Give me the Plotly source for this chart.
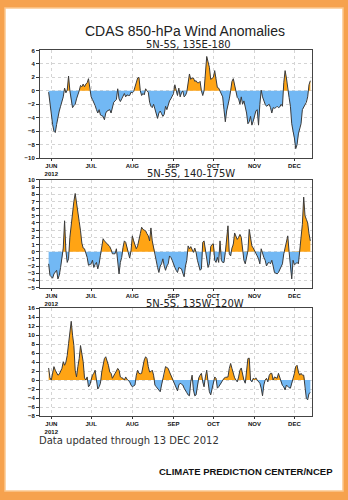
import numpy as np
import pandas as pd
import plotly.graph_objects as go

# ---------------- data ----------------
start_date = "2012-05-30"   # first daily value

region_titles = ["5N-5S, 135E-180", "5N-5S, 140-175W", "5N-5S, 135W-120W"]

anom_135e_180 = [
    -0.2, -2.0, -3.5, -5.0, -6.0, -6.2, -5.0, -3.8, -3.0, -2.3,
    -1.6, -0.9, 0.4, -0.3, 0.1, 2.2, 0.0, -1.7, -2.5, -2.2,
    -2.0, -1.2, -0.7, 0.0, 0.8, 0.6, 1.0, 0.6, 1.0, 1.2,
    1.8, 0.0, -0.9, -1.3, -1.7, -2.2, -2.8, -3.3, -2.8, -3.6,
    -3.7, -3.8, -4.3, -3.3, -3.0, -2.9, -2.8, -3.3, -2.5, -1.7,
    -1.5, -1.3, 0.3, -1.2, -1.6, -1.1, -0.7, -0.4, -0.9, -0.6,
    -0.7, -0.7, -0.2, -0.3, -0.1, 0.5, 1.2, 1.9, 2.0, 0.0,
    -0.7, -0.4, -0.6, 0.3, 0.0, -0.2, -1.7, -2.3, -2.5, -2.0,
    -2.7, -3.3, -4.1, -3.3, -3.0, -3.4, -3.8, -3.5, -2.3, -2.8,
    -2.0, -1.5, -1.2, -0.7, -0.4, 0.9, -0.2, -0.7, 0.4, -0.9,
    -0.3, 0.0, -0.9, -0.7, -0.2, 1.2, 2.5, 1.7, 1.9, 1.9,
    1.4, 1.5, 1.2, 1.2, 1.4, 0.0, -0.7, 0.0, 2.5, 5.1,
    4.3, 3.5, 1.7, 1.8, 2.0, 3.0, 2.0, 0.5, 0.4, 0.0,
    -0.5, -0.9, -2.8, -4.6, -3.0, -2.3, -1.2, 0.0, 1.4, 1.8,
    0.9, -0.2, -1.0, -1.2, -2.0, -0.9, -2.0, -1.5, -2.5, -3.3,
    -4.9, -4.6, -3.8, -5.1, -4.5, -3.8, -3.0, -2.8, -5.1, -2.0,
    0.1, -0.9, -1.5, -2.0, -2.3, -2.1, -2.0, -2.5, -3.3, -2.5,
    -2.6, -2.5, -2.3, -2.5, -2.4, -2.0, -2.3, 1.2, 3.0, 1.9,
    0.0, -1.0, -2.3, -4.9, -6.0, -7.0, -8.6, -8.0, -6.4, -5.5,
    -4.9, -2.8, -2.5, -2.0, -1.7, -0.9, 0.9, 1.5,
]

anom_140_175w = [
    -1.7, -3.3, -3.5, -3.7, -3.1, -2.8, -2.6, -3.8, -3.3, -2.2,
    -1.0, 0.5, 4.3, 0.1, -1.5, -1.0, 2.0, 3.8, 5.7, 7.0,
    8.1, 7.0, 5.7, 4.2, 2.9, 1.2, 0.5, 0.4, -0.2, -0.8,
    -1.9, -1.8, -1.7, -1.2, -2.2, -1.8, -1.5, -2.4, -1.7, -0.5,
    0.6, 1.8, 1.5, 1.3, 1.0, 0.9, 0.7, 0.3, -0.3, -0.3,
    -0.3, 0.4, -1.2, -3.1, -1.5, -0.8, 0.6, 1.5, 1.3, 0.5,
    0.1, -0.9, 0.1, 2.2, 1.5, 1.0, 0.4, 0.8, 1.5, 2.5,
    3.4, 3.1, 3.0, 2.9, 2.5, 2.2, 1.5, 3.3, 1.5, 0.5,
    0.0, -1.2, -2.2, -2.9, -2.0, -1.7, -1.0, -2.0, -2.6, -2.0,
    -1.7, -0.6, -0.8, -1.2, -1.8, -2.2, -2.6, -2.9, -2.2, -2.3,
    -2.4, -3.0, -3.5, -2.0, -1.2, 0.8, 0.4, 0.7, 0.2, -0.1,
    0.5, -0.1, -1.2, -2.0, -2.6, -2.4, 1.3, 1.5, 0.4, -0.8,
    -2.2, -1.7, 0.7, 1.0, 1.1, -1.2, -1.5, -0.8, -1.5, 1.5,
    -1.2, -1.5, -1.5, -0.1, 2.0, 3.6, -0.3, -0.6, 0.5, 1.0,
    2.6, 2.2, 1.7, 2.0, 2.4, 2.0, 0.4, -1.2, -1.7, -0.8,
    0.1, 3.1, 1.5, 0.8, 0.5, 0.2, -0.1, -0.6, -1.0, -1.7,
    0.4, -0.3, -0.8, -1.2, -2.0, -1.6, -1.5, -1.7, -1.2, -2.0,
    -2.9, -3.0, -3.1, -2.9, -2.5, -2.2, -1.7, -0.3, 0.4, 1.1,
    2.2, 0.0, -2.4, -3.8, -1.2, -1.8, -1.7, -1.5, -1.7, 0.1,
    2.0, 3.8, 7.6, 5.0, 4.5, 4.0, 2.5, 1.5,
]

anom_135w_120w = [
    2.7, 0.5, 0.0, 2.0, 3.0, 2.2, 1.5, 1.1, 1.3, 2.0,
    2.6, 4.1, 3.3, 4.0, 5.5, 8.1, 10.5, 13.1, 10.0, 7.7,
    2.2, 0.7, 3.0, 4.8, 7.7, 5.5, 4.1, 0.5, 0.0, 0.7,
    -1.5, -1.1, 0.4, 1.1, 1.5, 2.2, 0.0, -2.0, -1.5, -0.7,
    1.8, 3.3, 4.8, 5.2, 4.3, 3.3, 1.8, 1.5, 0.4, 1.1,
    1.5, 2.0, 2.6, 2.2, 0.7, 0.5, 0.4, 0.0, 0.7, 0.2,
    -0.2, -0.4, -1.1, -1.5, -1.3, -1.1, 1.1, 2.2, 1.5, 1.4,
    1.5, 3.3, 4.5, 5.2, 4.8, 3.0, 1.8, 1.9, 2.2, 1.1,
    -1.1, -1.5, -1.8, -2.2, -2.6, -1.1, 0.2, 1.1, 3.0, 2.8,
    2.6, 1.8, 1.1, 0.5, 0.0, -1.1, -1.8, -2.4, -1.1, -0.7,
    -0.9, -1.1, -1.8, -2.2, -2.8, -3.3, -3.5, -0.4, 1.1, -2.2,
    -3.5, -3.3, -1.1, 0.5, 1.1, 1.5, -0.4, -1.5, 0.7, 2.2,
    -0.4, -2.6, -3.3, -2.0, -1.1, 0.7, 0.4, -1.8, -1.5, -1.0,
    -0.7, 0.0, 0.4, 0.6, 0.7, 0.7, 2.6, 3.7, 2.6, 1.5,
    0.5, 0.0, -0.4, 0.7, 2.2, 2.7, 1.0, 0.0, -0.7, 1.8,
    4.8, 4.9, 0.0, -0.4, 0.4, 0.2, 0.5, 0.0, -0.3, -0.7,
    -1.8, -3.5, -1.1, 0.0, 0.4, -0.4, 1.0, 1.5, 1.5, 0.0,
    0.7, 0.5, 0.4, 1.5, 0.4, -0.7, -1.2, -1.5, -2.2, -1.1,
    -1.5, -1.7, -1.8, -0.7, 0.0, 1.5, 3.0, 3.3, 1.8, 1.1,
    1.5, 1.1, 1.1, -1.1, -4.1, -4.4, -3.0, -2.8,
]

series_list = [anom_135e_180, anom_140_175w, anom_135w_120w]

month_ticks = ["2012-06-01", "2012-07-01", "2012-08-01", "2012-09-01",
               "2012-10-01", "2012-11-01", "2012-12-01"]
month_labels = ["JUN<br>2012", "JUL", "AUG", "SEP", "OCT", "NOV", "DEC"]

y_ranges = [(-10, 6), (-5, 10), (-8, 16)]
y_dticks = [2, 1, 2]
x_range = ["2012-05-23 12:00", "2012-12-14 06:00"]

main_title = "CDAS 850-hPa Wind Anomalies"
footer_left = "Data updated through 13 DEC 2012"
footer_right = "CLIMATE PREDICTION CENTER/NCEP"

# ---------------- styling ----------------
W, H = 348, 500
ORANGE = "#FFA414"
BLUE = "#72B8F4"
LINE = "#3a3a3a"
FRAME = "#F6A24E"

# plot areas in pixels (top, bottom)
panel_px = [(48, 157), (179, 288), (309, 418)]
title_px = [(188, 42), (191, 173), (195, 304)]
x_px = (40, 312)


def split_at_zero(dates, vals):
    xs, ys = [], []
    for i in range(len(vals)):
        if i > 0 and vals[i - 1] * vals[i] < 0:
            f = vals[i - 1] / (vals[i - 1] - vals[i])
            xs.append(dates[i - 1] + (dates[i] - dates[i - 1]) * f)
            ys.append(0.0)
        xs.append(dates[i])
        ys.append(vals[i])
    ys = np.array(ys, dtype=float)
    return xs, np.maximum(ys, 0), np.minimum(ys, 0)


tick_font = dict(size=6, color="#111", family="Liberation Sans", weight="bold")
fig = go.Figure()
layout_axes = {}
for k, vals in enumerate(series_list):
    n = k + 1
    xa = "x" if n == 1 else f"x{n}"
    ya = "y" if n == 1 else f"y{n}"
    dates = list(pd.date_range(start_date, periods=len(vals), freq="D"))
    xs, pos, neg = split_at_zero(dates, vals)
    fig.add_trace(go.Scatter(x=xs, y=pos, mode="lines", line=dict(width=0),
                             fill="tozeroy", fillcolor=ORANGE, hoverinfo="skip",
                             showlegend=False, xaxis=xa, yaxis=ya))
    fig.add_trace(go.Scatter(x=xs, y=neg, mode="lines", line=dict(width=0),
                             fill="tozeroy", fillcolor=BLUE, hoverinfo="skip",
                             showlegend=False, xaxis=xa, yaxis=ya))
    fig.add_trace(go.Scatter(x=dates, y=vals, mode="lines",
                             line=dict(color=LINE, width=1),
                             showlegend=False, xaxis=xa, yaxis=ya))

    top, bot = panel_px[k]
    key_x = "xaxis" if n == 1 else f"xaxis{n}"
    key_y = "yaxis" if n == 1 else f"yaxis{n}"
    layout_axes[key_x] = dict(
        domain=[x_px[0] / W, x_px[1] / W], anchor=ya, range=x_range,
        tickvals=month_ticks, ticktext=month_labels, ticks="outside", ticklen=2,
        tickcolor="#333", tickfont=tick_font,
        showgrid=True, gridcolor="#d4d4d4", griddash="dot", gridwidth=1,
        showline=True, linecolor="#444", linewidth=1, mirror=True, zeroline=False,
    )
    layout_axes[key_y] = dict(
        domain=[1 - bot / H, 1 - top / H], anchor=xa, range=list(y_ranges[k]),
        dtick=y_dticks[k], tick0=0, ticks="outside", ticklen=3, tickcolor="#333",
        tickfont=tick_font,
        showgrid=True, gridcolor="#d4d4d4", griddash="dot", gridwidth=1,
        showline=True, linecolor="#444", linewidth=1, mirror=True, zeroline=False,
    )

annotations = [
    dict(text=main_title, x=185 / W, y=1 - 28 / H,
         font=dict(size=14, color="#222", family="Liberation Sans")),
]
for k in range(3):
    tx, ty = title_px[k]
    annotations.append(dict(text=region_titles[k], x=tx / W, y=1 - ty / H,
                            font=dict(size=10, color="#222", family="DejaVu Sans")))
annotations += [
    dict(text=footer_left, x=37 / W, y=1 - 443 / H, xanchor="left",
         font=dict(size=10, color="#333", family="DejaVu Sans")),
    dict(text=footer_right, x=335 / W, y=1 - 474 / H, xanchor="right",
         font=dict(size=9.5, color="#111", family="Liberation Sans", weight="bold")),
]
for a in annotations:
    a.update(xref="paper", yref="paper", showarrow=False)
    a.setdefault("xanchor", "center")
    a["yanchor"] = "middle"

fig.update_layout(
    width=W, height=H, margin=dict(l=0, r=0, t=0, b=0),
    paper_bgcolor=FRAME, plot_bgcolor="white",
    annotations=annotations,
    shapes=[dict(type="rect", xref="paper", yref="paper", layer="below",
                 x0=5 / W, x1=343 / W, y0=1 - 494 / H, y1=1 - 5 / H,
                 fillcolor="white", line=dict(color="#FCC88E", width=1.5))],
    **layout_axes,
)

fig.write_html("out.html")
